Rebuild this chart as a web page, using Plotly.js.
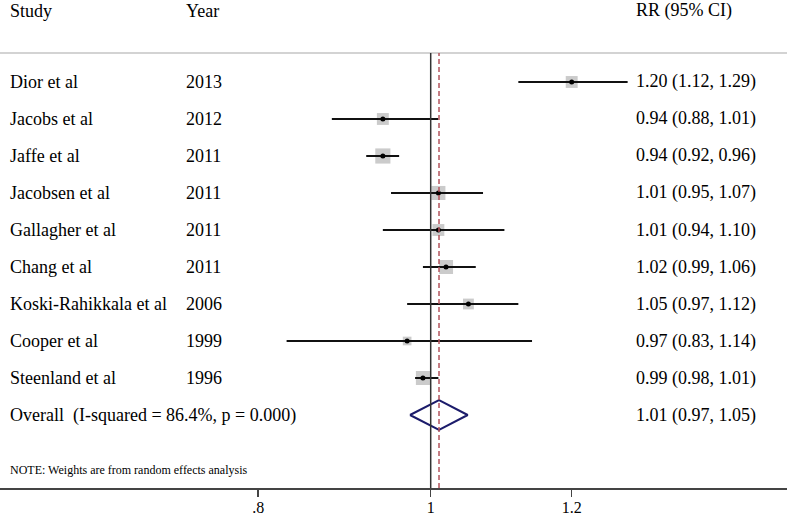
<!DOCTYPE html>
<html>
<head>
<meta charset="utf-8">
<script src="https://cdn.plot.ly/plotly-3.0.1.min.js"></script>
<style>html,body{margin:0;padding:0;background:#fff}#chart{width:787px;height:519px}</style>
</head>
<body>
<div id="chart"></div>
<script>
// ---- data ----
const studies = ["Dior et al","Jacobs et al","Jaffe et al","Jacobsen et al","Gallagher et al","Chang et al","Koski-Rahikkala et al","Cooper et al","Steenland et al"];
const years = ["2013","2012","2011","2011","2011","2011","2006","1999","1996"];
const rr = [1.20, 0.94, 0.94, 1.01, 1.01, 1.02, 1.05, 0.97, 0.99];
const ciLow = [1.12, 0.88, 0.92, 0.95, 0.94, 0.99, 0.97, 0.83, 0.98];
const ciHigh = [1.29, 1.01, 0.96, 1.07, 1.10, 1.06, 1.12, 1.14, 1.01];
const weights = [9.8, 9.8, 15.9, 13.7, 9.8, 13.7, 8.1, 5.2, 13.7]; // % (random effects)
const overall = {label: "Overall  (I-squared = 86.4%, p = 0.000)", rr: 1.01, lo: 0.97, hi: 1.05};
const overallDiamond = {rr: 1.0108, lo: 0.9736, hi: 1.049};
const tickVals = [0.8, 1, 1.2];
const tickText = [".8", "1", "1.2"];
const note = "NOTE: Weights are from random effects analysis";

// ---- build ----
const W = 787;
const rows = studies.map((_, i) => i + 1);
const overallRow = studies.length + 1;
const serif = "Liberation Serif, Times New Roman, serif";
const fmt = v => v.toFixed(2);

const lineX = [], lineY = [];
rows.forEach((r, i) => { lineX.push(ciLow[i], ciHigh[i], null); lineY.push(r, r, null); });

const traces = [
  { // weight boxes
    x: rr, y: rows, type: "scatter", mode: "markers", hoverinfo: "skip",
    marker: {symbol: "square", color: "#b5b5b5", size: weights.map(w => 3.8 * Math.sqrt(w)), line: {width: 0}}
  },
  { // CI lines
    x: lineX, y: lineY, type: "scatter", mode: "lines", hoverinfo: "skip",
    line: {color: "#111", width: 2}
  },
  { // point estimates
    x: rr, y: rows, type: "scatter", mode: "markers", hoverinfo: "skip",
    marker: {symbol: "circle", color: "#000", size: 5}
  },
  { // overall diamond
    x: [overallDiamond.lo, overallDiamond.rr, overallDiamond.hi, overallDiamond.rr, overallDiamond.lo],
    y: [overallRow, overallRow - 0.4, overallRow, overallRow + 0.4, overallRow],
    type: "scatter", mode: "lines", hoverinfo: "skip",
    line: {color: "#1c1c6b", width: 2}
  }
];

const annotations = [];
const addText = (text, px, y, size) => annotations.push({
  text: text, x: px / W, xref: "paper", y: y, yref: "y", xanchor: "left", yanchor: "middle",
  showarrow: false, font: {family: serif, size: size || 18, color: "#000"}
});
addText("Study", 8, -0.92);
addText("Year", 184, -0.92);
addText("RR (95% CI)", 634, -0.92);
rows.forEach((r, i) => {
  addText(studies[i], 8, r);
  addText(years[i], 184, r);
  addText(fmt(rr[i]) + " (" + fmt(ciLow[i]) + ", " + fmt(ciHigh[i]) + ")", 634, r);
});
addText(overall.label, 8, overallRow);
addText(fmt(overall.rr) + " (" + fmt(overall.lo) + ", " + fmt(overall.hi) + ")", 634, overallRow);
addText(note, 8, 11.49, 12);

const topLine = (488 - 53) / 488;
const shapes = [
  {type: "line", xref: "paper", yref: "paper", x0: 0, x1: 1, y0: topLine, y1: topLine, line: {color: "#c4c4c4", width: 1.5}},
  {type: "line", xref: "x", yref: "paper", x0: 1, x1: 1, y0: 0, y1: topLine, line: {color: "#333", width: 1.5}},
  {type: "line", xref: "x", yref: "paper", x0: overallDiamond.rr, x1: overallDiamond.rr, y0: 0, y1: topLine, line: {color: "#b3545c", width: 1.5, dash: "5px,3px"}}
];

const layout = {
  width: 787, height: 519,
  margin: {l: 0, r: 0, t: 0, b: 31, pad: 0},
  paper_bgcolor: "#fff", plot_bgcolor: "#fff",
  showlegend: false,
  xaxis: {
    type: "log", range: [-0.24187, 0.20009], fixedrange: true,
    showgrid: false, zeroline: false, showline: true, linecolor: "#444", linewidth: 2,
    ticks: "outside", ticklen: 7, tickwidth: 1.5, tickcolor: "#444",
    tickvals: tickVals, ticktext: tickText, ticklabelstandoff: -3,
    tickfont: {family: serif, size: 16, color: "#000"}
  },
  yaxis: {
    range: [11.973, -1.216], fixedrange: true, visible: false,
    showgrid: false, zeroline: false
  },
  annotations: annotations,
  shapes: shapes
};

Plotly.newPlot("chart", traces, layout, {displayModeBar: false, staticPlot: true});
</script>
</body>
</html>
